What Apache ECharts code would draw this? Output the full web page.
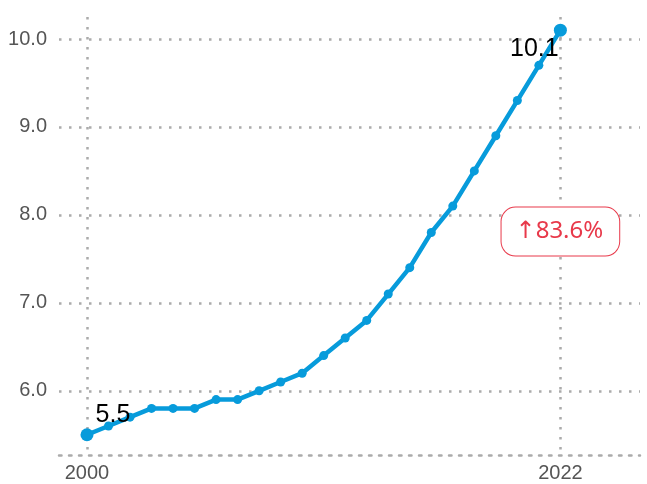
<!DOCTYPE html>
<html>
<head>
<meta charset="utf-8">
<script src="https://cdn.jsdelivr.net/npm/echarts@6/dist/echarts.min.js"></script>
<style>
  html, body { margin: 0; padding: 0; background: #fff; }
  #chart { width: 647px; height: 484px; }
</style>
</head>
<body>
<div id="chart"></div>
<script>
// data
const years = [2000, 2001, 2002, 2003, 2004, 2005, 2006, 2007, 2008, 2009, 2010, 2011,
  2012, 2013, 2014, 2015, 2016, 2017, 2018, 2019, 2020, 2021, 2022];
const values = [5.5, 5.6, 5.7, 5.8, 5.8, 5.8, 5.9, 5.9, 6.0, 6.1, 6.2, 6.4,
  6.6, 6.8, 7.1, 7.4, 7.8, 8.1, 8.5, 8.9, 9.3, 9.7, 10.1];
const xTicks = [2000, 2022];
const yTicks = [6, 7, 8, 9, 10];
const changeText = '↑83.6%';

const gridDots = { color: '#ababab', width: 2.5, type: [2.5, 7.5] };
const lineColor = '#079bdb';

const seriesData = years.map((y, i) => {
  const item = { value: [y, values[i]] };
  if (i === 0) {
    item.symbolSize = 13;
    item.label = { show: true, position: 'top', offset: [26, 4] };
  } else if (i === years.length - 1) {
    item.symbolSize = 13;
    item.label = { show: true, position: 'bottom', offset: [-26, -5] };
  }
  return item;
});

const myChart = echarts.init(document.getElementById('chart'));
myChart.setOption({
  animation: false,
  grid: { left: 59, right: 7, top: 17, bottom: 29, containLabel: false },
  xAxis: {
    type: 'value',
    min: 1998.7,
    max: 2025.7,
    axisLine: { show: true, lineStyle: gridDots },
    axisTick: { show: false, customValues: xTicks },
    axisLabel: {
      customValues: xTicks,
      color: '#555',
      fontSize: 20,
      fontFamily: 'Liberation Sans, Arial, sans-serif',
      margin: 8,
      formatter: v => String(v)
    },
    splitLine: { show: true, lineStyle: gridDots }
  },
  yAxis: {
    type: 'value',
    min: 5.27,
    max: 10.25,
    axisLine: { show: false },
    axisTick: { show: false, customValues: yTicks },
    axisLabel: {
      customValues: yTicks,
      color: '#555',
      fontSize: 20,
      fontFamily: 'Liberation Sans, Arial, sans-serif',
      margin: 12,
      formatter: v => v.toFixed(1)
    },
    splitLine: { show: true, lineStyle: gridDots }
  },
  series: [{
    type: 'line',
    data: seriesData,
    symbol: 'circle',
    symbolSize: 9,
    lineStyle: { color: lineColor, width: 4.5 },
    itemStyle: { color: lineColor },
    label: {
      show: false,
      color: '#000',
      fontSize: 25,
      fontFamily: 'Liberation Sans, Arial, sans-serif',
      formatter: p => p.value[1].toFixed(1)
    },
    markPoint: {
      symbol: 'circle',
      symbolSize: 0,
      data: [{ coord: [2022, 7.81] }],
      label: {
        show: true,
        position: 'inside',
        formatter: changeText,
        color: '#e8394a',
        fontSize: 24,
        fontFamily: 'Noto Sans, Open Sans, DejaVu Sans, sans-serif',
        backgroundColor: '#fff',
        borderColor: '#e8394a',
        borderWidth: 1,
        borderRadius: 14,
        padding: [12, 16, 12, 14]
      }
    }
  }]
});
window.addEventListener('resize', () => {
  myChart.resize();
});
</script>
</body>
</html>
